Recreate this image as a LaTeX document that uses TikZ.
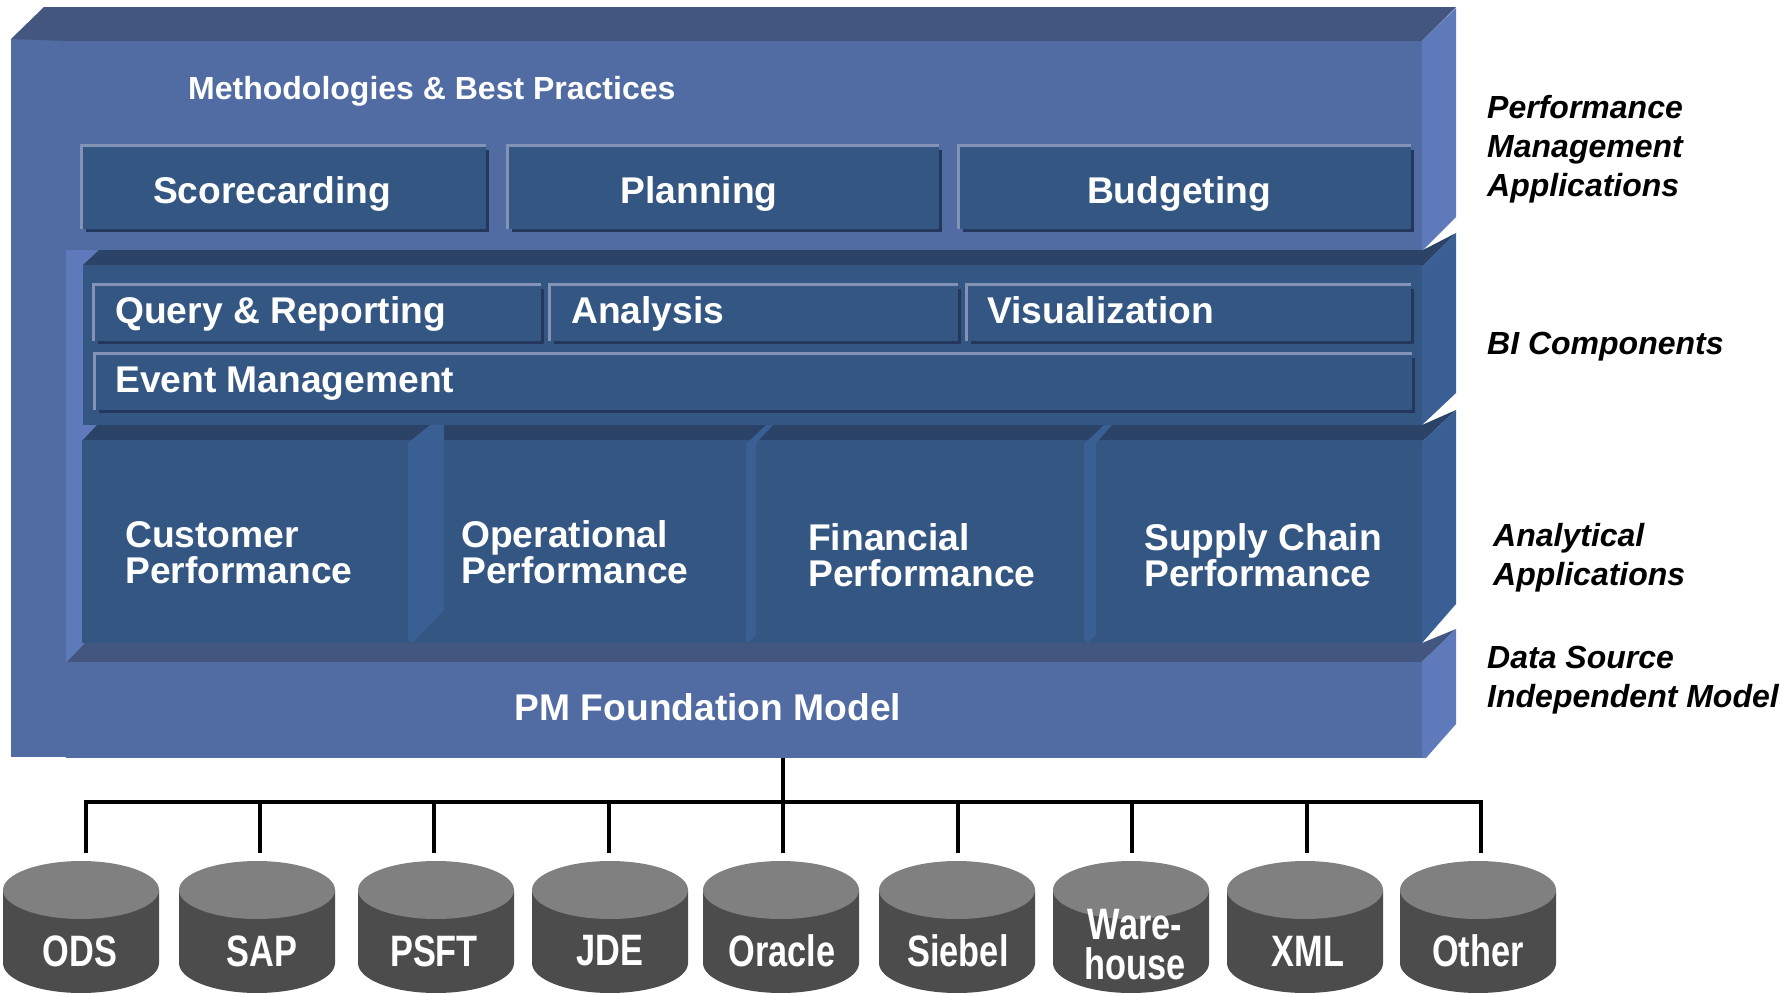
\documentclass[tikz,border=0pt]{standalone}
\usepackage{fontspec}
\setmainfont{Liberation Sans}
\newfontfamily\drumfont[FakeStretch=0.78]{Liberation Sans}
\definecolor{slabfront}{HTML}{516BA3}
\definecolor{slabside}{HTML}{5F7ABB}
\definecolor{slabtop}{HTML}{43567F}
\definecolor{deepfront}{HTML}{345683}
\definecolor{deepside}{HTML}{3A5F94}
\definecolor{deeptop}{HTML}{2A4366}
\definecolor{panelshade}{HTML}{23385C}
\definecolor{panelline}{HTML}{8393B5}
\tikzset{
  bigtext/.style={inner sep=0pt, white, font=\fontsize{37.2}{36}\selectfont\bfseries, align=left},
  sidetext/.style={inner sep=0pt, anchor=west, black, font=\fontsize{32}{39}\selectfont\bfseries\itshape, align=left},
  bus/.style={black, line width=4pt},
  drumtop/.style={fill=black!50},
  drumbody/.style={fill=black!70},
  drumtext/.style={inner sep=0pt, white, font=\drumfont\fontsize{44}{40}\selectfont\bfseries, align=center}
}
\begin{document}
\begin{tikzpicture}[x=1pt, y=-1pt]
        \useasboundingbox (0, 0) rectangle (1788, 993);

        \coordinate (bustop) at (783, 758);
        \coordinate (busmid) at (783, 802);

        % left post and strip
        \fill [slabfront] (11, 39) rectangle (67, 757);
        \fill [slabside] (66, 250) rectangle (100, 662);

        % top slab
        \fill [slabtop] (11, 39) -- (44, 7) -- (1456, 7) -- (1422, 41) -- (67, 41) -- cycle;
        \fill [slabfront] (66, 41) rectangle (1422, 250);
        \fill [slabside] (1422, 41) -- (1456, 8) -- (1456, 217) -- (1423, 250) -- (1422, 250) -- cycle;

        % middle slab
        \fill [deeptop] (83, 265) -- (99, 250) -- (1423, 250) -- (1456, 233) -- (1422, 267) -- cycle;
        \fill [deepfront] (83, 265) rectangle (1422, 425);
        \fill [deepside] (1422, 267) -- (1456, 233) -- (1456, 393) -- (1422, 425) -- cycle;

        % lower slab
        \fill [deeptop] (82, 441) -- (97, 425) -- (1422, 425) -- (1456, 410) -- (1422, 442) -- cycle;
        \fill [deepfront] (82, 440) rectangle (1422, 643);
        \fill [deepside] (1422, 442) -- (1456, 410) -- (1456, 604) -- (1422, 643) -- cycle;
        \fill [deepside] (408, 443) -- (430, 425) -- (444, 425) -- (444, 610) -- (412, 643) -- (408, 640) -- cycle;
        \fill [deepside] (746, 444) -- (766, 425) -- (773, 425) -- (756, 443) -- (756, 635) -- (748, 643) -- (746, 640) -- cycle;
        \fill [deepside] (1084, 444) -- (1104, 425) -- (1112, 425) -- (1096, 443) -- (1096, 635) -- (1087, 643) -- (1084, 640) -- cycle;

        % foundation slab
        \fill [slabtop] (67, 662) -- (85, 643) -- (1422, 643) -- (1456, 629) -- (1422, 662) -- cycle;
        \fill [slabfront] (66, 662) rectangle (1422, 758);
        \fill [slabside] (1422, 662) -- (1456, 629) -- (1456, 724) -- (1426, 758) -- (1422, 758) -- cycle;

        % panels
        \foreach \xa/\ya/\xb/\yb in {83/147/486/229, 509/147/939/229, 960/147/1411/229,
            95/286/541/341, 551/286/958/341, 968/286/1411/341, 96/355/1412/410} {
          \fill [panelshade] ({\xa+3}, {\ya+3}) rectangle ({\xb+3}, {\yb+3});
          \fill [deepfront] (\xa, \ya) rectangle (\xb, \yb);
          \draw [panelline, line width=3pt] ({\xa-1.5}, \yb) -- ({\xa-1.5}, {\ya-1.5}) -- (\xb, {\ya-1.5});
        }

        \node [bigtext, font=\fontsize{32}{36}\selectfont\bfseries, anchor=west] (methods) at (188, 91.5) {Methodologies \& Best Practices};
        \foreach \name/\x/\txt in {score/272/Scorecarding, plan/699/Planning, budget/1179/Budgeting} {
          \node [bigtext] (\name) at (\x, 194) {\txt};
        }
        \foreach \name/\x/\y/\txt in {query/115/313.5/Query \& Reporting, analysis/571/313.5/Analysis,
            visual/987/310/Visualization, event/115/384/Event Management} {
          \node [bigtext, anchor=west] (\name) at (\x, \y) {\txt};
        }
        \foreach \name/\x/\y/\txt in {customer/125/553/{Customer\\Performance}, operational/461/552/{Operational\\Performance},
            financial/808/555/{Financial\\Performance}, supply/1144/555/{Supply Chain\\Performance}} {
          \node [bigtext, anchor=west] (\name) at (\x, \y) {\txt};
        }
        \node [bigtext] (found) at (708, 707) {PM Foundation Model};

        \node [sidetext] (pmapps) at (1487, 149) {Performance\\Management\\Applications};
        \node [sidetext] (bicomp) at (1487, 347) {BI Components};
        \node [sidetext] (anapps) at (1493, 558) {Analytical\\Applications};
        \node [sidetext] (dsmodel) at (1487, 680) {Data Source\\Independent Model};

        % source drums
        \foreach \x/\tx/\ty/\name/\txt in {81/80/951/ods/ODS, 257/262/951/sap/SAP, 436/434/951/psft/PSFT, 610/610/951/jde/JDE,
            781/782/951/oracle/Oracle, 957/958/951/siebel/Siebel, 1131/1135/945/ware/{Ware-\\house},
            1305/1308/951/xml/XML, 1478/1478/951/other/Other} {
          \fill [drumbody] ({\x-78}, 890) -- ({\x-78}, 963) arc [start angle=180, end angle=0, x radius=78, y radius=30] -- ({\x+78}, 890) -- cycle;
          \fill [drumtop] (\x, 890) ellipse [x radius=78, y radius=29];
          \node [drumtext] (\name) at (\tx, \ty) {\txt};
        }

        % bus to the drums
        \foreach \i/\x in {1/86, 2/260, 3/434, 4/609, 5/783, 6/958, 7/1132, 8/1307, 9/1481} {
          \coordinate (drop\i) at (\x, 853);
          \coordinate (tap\i) at (\x, 802);
          \draw [bus] (tap\i) -- (drop\i);
        }
        \draw [bus] (bustop) -- (busmid);
        \draw [bus, line cap=rect] (tap1) -- (tap9);
\end{tikzpicture}
\end{document}
